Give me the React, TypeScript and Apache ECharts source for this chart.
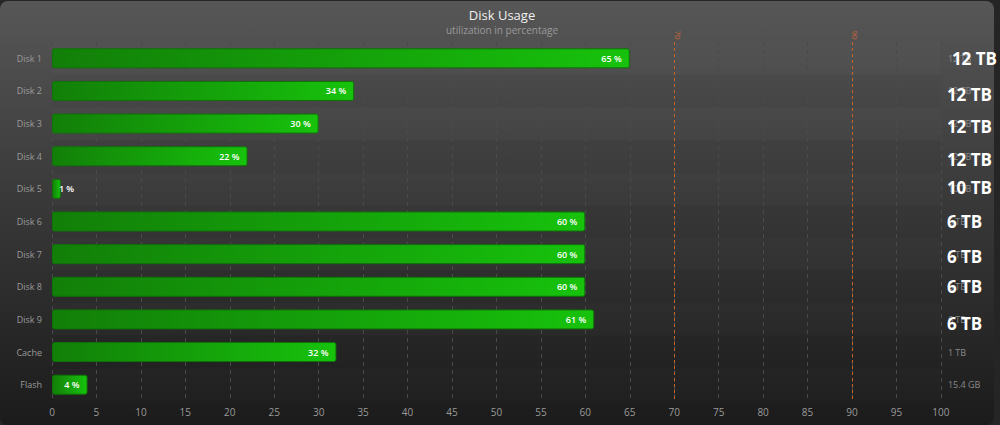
import React, { useEffect, useRef } from "react";
import * as echarts from "echarts";

const categories = ["Disk 1", "Disk 2", "Disk 3", "Disk 4", "Disk 5", "Disk 6", "Disk 7", "Disk 8", "Disk 9", "Cache", "Flash"];
const usage = [65, 34, 30, 22, 1, 60, 60, 60, 61, 32, 4];
const capacity = ["12 TB", "12 TB", "12 TB", "12 TB", "10 TB", "6 TB", "6 TB", "6 TB", "6 TB", "1 TB", "15.4 GB"];
const bigCapacity = ["12 TB", "12 TB", "12 TB", "12 TB", "10 TB", "6 TB", "6 TB", "6 TB", "6 TB", "", ""];
const thresholds = [70, 90];

export default function App() {
  const ref = useRef<HTMLDivElement>(null);
  useEffect(() => {
    document.body.style.margin = "0";
    document.body.style.background = "#252525";
    const chart = echarts.init(ref.current!, null, { renderer: "svg" });
    const font = "'Open Sans', 'DejaVu Sans', sans-serif";
    const bigShift = [0, 4, 3, 3, -1, 0, 2, 0, 4, 0, 0];
    const bigIndent = [5, 0, 0, 0, 0, 0, 0, 0, 0, 0, 0];
    const rich: Record<string, any> = {};
    bigShift.forEach((s, i) => {
      rich["b" + i] = {
        color: "#ffffff",
        fontSize: 17,
        fontWeight: "bold",
        fontFamily: font,
        padding: [Math.max(0, 2 * s), 0, Math.max(0, -2 * s), bigIndent[i]],
      };
    });
    chart.setOption({
      animation: false,
      backgroundColor: "transparent",
      textStyle: { fontFamily: font },
      title: {
        text: "Disk Usage",
        subtext: "utilization in percentage",
        left: 497,
        textAlign: "center",
        top: 2,
        itemGap: 4,
        textStyle: { color: "#f0f0f0", fontSize: 13, fontWeight: "normal", fontFamily: font },
        subtextStyle: { color: "#9a9a9a", fontSize: 10, fontFamily: font },
      },
      grid: { left: 52, right: 57, top: 41, bottom: 24, containLabel: false },
      xAxis: {
        type: "value",
        min: 0,
        max: 100,
        interval: 5,
        axisLine: { show: false },
        axisTick: { show: false },
        axisLabel: { color: "#9a9a9a", fontSize: 10, margin: 6, fontFamily: font },
        splitLine: { show: true, lineStyle: { color: "#4a4a4a", type: [4, 4], width: 1 } },
      },
      yAxis: [
        {
          type: "category",
          data: categories,
          inverse: true,
          axisLine: { show: false },
          axisTick: { show: false },
          axisLabel: { color: "#9a9a9a", fontSize: 9, margin: 10, fontFamily: font },
          splitArea: { show: true, areaStyle: { color: ["rgba(255,255,255,0.01)", "rgba(0,0,0,0.015)"] } },
        },
        {
          type: "category",
          data: capacity,
          inverse: true,
          position: "right",
          axisLine: { show: false },
          axisTick: { show: false },
          axisLabel: { color: "#8a8a8a", fontSize: 9, margin: 7, fontFamily: font },
        },
        {
          type: "category",
          data: bigCapacity,
          inverse: true,
          position: "right",
          axisLine: { show: false },
          axisTick: { show: false },
          axisLabel: {
            margin: 6,
            formatter: (v: string, i: number) => (v ? `{b${i}|${v}}` : ""),
            rich,
          },
        },
      ],
      series: [
        {
          type: "bar",
          data: usage.map((v) =>
            v < 3 ? { value: v, label: { position: "right", distance: -2 } } : { value: v }
          ),
          barWidth: 20,
          itemStyle: {
            color: new echarts.graphic.LinearGradient(0, 0, 1, 0, [
              { offset: 0, color: "#127f08" },
              { offset: 1, color: "#17c20c" },
            ]),
            borderColor: "#0f7208",
            borderWidth: 1,
            borderRadius: 2,
          },
          label: {
            show: true,
            position: "insideRight",
            distance: 8,
            formatter: "{c} %",
            color: "#ffffff",
            fontSize: 9,
            fontWeight: 600,
            fontFamily: font,
          },
          markLine: {
            silent: true,
            symbol: "none",
            lineStyle: { color: "#c8642a", type: [3, 3], width: 1 },
            label: {
              show: true,
              position: "start",
              formatter: "{c}",
              color: "#d0683a",
              fontSize: 8,
              rotate: -90,
              distance: 7,
            },
            data: thresholds.map((t) => ({ xAxis: t })),
          },
        },
      ],
    });
    return () => chart.dispose();
  }, []);
  return (
    <div
      style={{
        position: "absolute",
        left: 0,
        top: 1,
        width: 994,
        height: 424,
        borderRadius: 8,
        overflow: "visible",
        background: "linear-gradient(to bottom, #575757 0%, #3a3a3a 45%, #1b1b1b 100%)",
      }}
    >
      <div ref={ref} style={{ width: 1000, height: 424 }} />
    </div>
  );
}
